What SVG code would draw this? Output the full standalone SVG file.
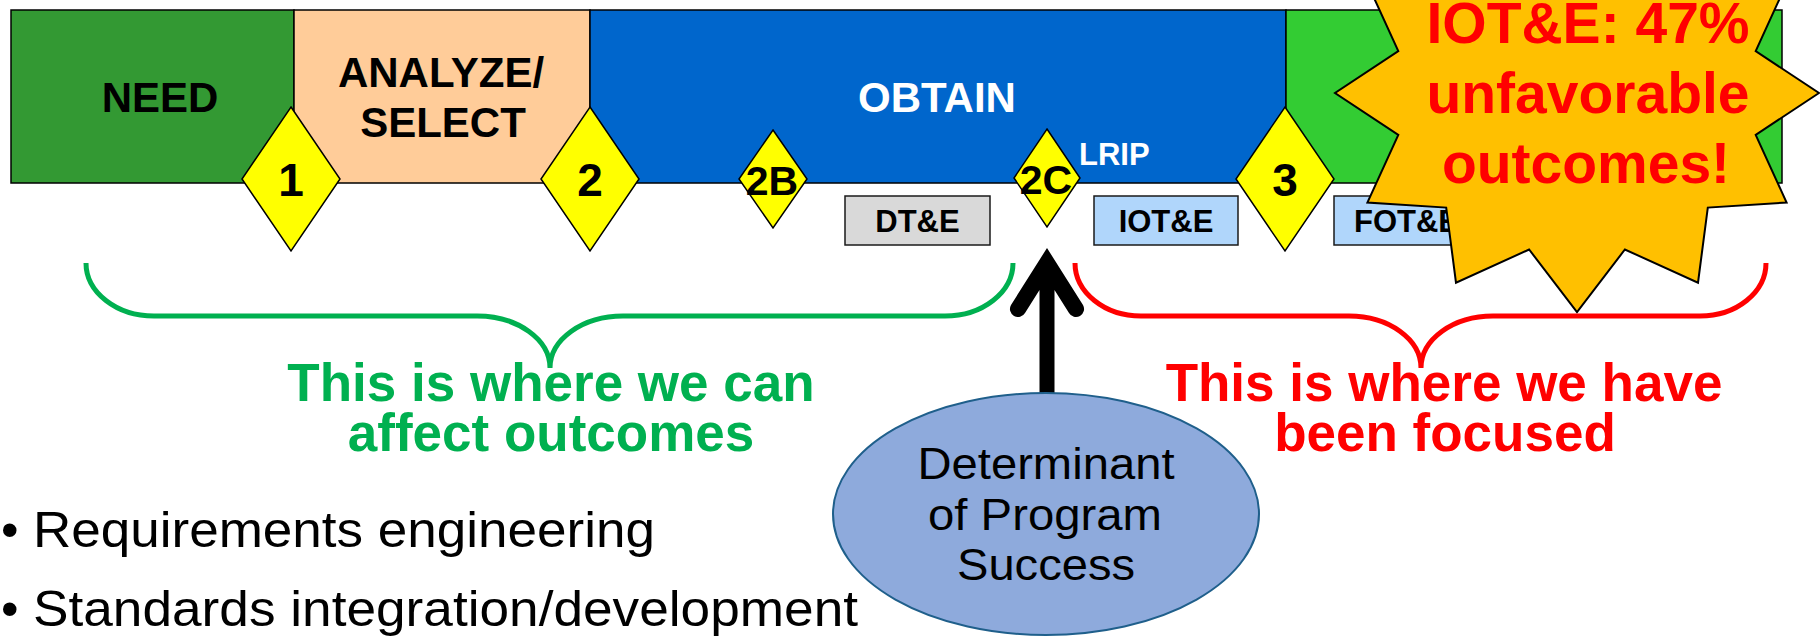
<svg xmlns="http://www.w3.org/2000/svg" width="1820" height="636" viewBox="0 0 1820 636">
<style>
.b{font-family:"Liberation Sans",Arial,sans-serif;font-weight:bold;text-anchor:middle}
.r{font-family:"Liberation Sans",Arial,sans-serif;font-weight:normal}
.seg{stroke:#000;stroke-width:1.5}
.dia{fill:#ffff00;stroke:#000;stroke-width:1.5}
.box{stroke:#1a1a1a;stroke-width:1.5}
.brace{fill:none;stroke-width:5}
</style>
<rect width="1820" height="636" fill="#ffffff"/>
<g id="phase-need"><rect class="seg" x="11" y="10" width="283" height="173" fill="#339933"/>
<text class="b" x="160" y="112" font-size="42" fill="#000">NEED</text></g>
<g id="phase-analyze"><rect class="seg" x="294" y="10" width="296" height="173" fill="#ffcc99"/>
<text class="b" x="441" y="87" font-size="42" fill="#000">ANALYZE/</text>
<text class="b" x="443" y="137" font-size="42" fill="#000">SELECT</text></g>
<g id="phase-obtain"><rect class="seg" x="590" y="10" width="696" height="173" fill="#0066cc"/>
<text class="b" x="937" y="112" font-size="42" fill="#ffffff">OBTAIN</text>
<text class="b" x="1079" y="165" font-size="31" fill="#ffffff" style="text-anchor:start">LRIP</text></g>
<g id="phase-sustain"><rect class="seg" x="1286" y="10" width="496" height="173" fill="#33cc33"/></g>
<g id="ms1"><polygon class="dia" points="291,107 340,179 291,251 242,179"/><text class="b" x="291" y="196" font-size="46">1</text></g>
<g id="ms2"><polygon class="dia" points="590,107 639,179 590,251 541,179"/><text class="b" x="590" y="196" font-size="46">2</text></g>
<g id="ms2b"><polygon class="dia" points="773,130 807,179 773,228 739,179"/><text class="b" x="772" y="195" font-size="41">2B</text></g>
<g id="ms2c"><polygon class="dia" points="1047,129 1080,178 1047,227 1014,178"/><text class="b" x="1046" y="194" font-size="41">2C</text></g>
<g id="ms3"><polygon class="dia" points="1285,107 1334,179 1285,251 1236,179"/><text class="b" x="1285" y="196" font-size="46">3</text></g>
<g id="dte"><rect class="box" x="845" y="196" width="145" height="49" fill="#d9d9d9"/><text class="b" x="917.5" y="232" font-size="31">DT&amp;E</text></g>
<g id="iote"><rect class="box" x="1094" y="196" width="144" height="49" fill="#b0d6fb"/><text class="b" x="1166" y="232" font-size="31">IOT&amp;E</text></g>
<g id="fote"><rect class="box" x="1334" y="196" width="145" height="49" fill="#b0d6fb"/><text class="b" x="1406.5" y="232" font-size="31">FOT&amp;E</text></g>
<g id="starburst">
<polygon points="1819,93 1755.7,134.9 1786.6,202.5 1707.8,207.6 1698,282.7 1624.9,249.5 1577,312 1529.1,249.5 1456,282.7 1446.2,207.6 1367.4,202.5 1398.3,134.9 1335,93 1398.3,51.1 1367.4,-16.5 1446.2,-21.6 1456,-96.7 1529.1,-63.5 1577,-126 1624.9,-63.5 1698,-96.7 1707.8,-21.6 1786.6,-16.5 1755.7,51.1" fill="#ffc000" stroke="#000" stroke-width="2" stroke-linejoin="miter"/>
<text class="b" x="1588" y="43" font-size="57" fill="#ff0000">IOT&amp;E: 47%</text>
<text class="b" x="1588" y="113" font-size="57" fill="#ff0000">unfavorable</text>
<text class="b" x="1586" y="183" font-size="57" fill="#ff0000">outcomes!</text>
</g>
<g id="connectors">
<path class="brace" stroke="#00b050" d="M86,263 A68,53 0 0 0 154,316 L477,316 A73,52 0 0 1 550,368 A73,52 0 0 1 623,316 L945,316 A68,53 0 0 0 1013,263"/>
<path class="brace" stroke="#ff0000" d="M1075,263 A66,53 0 0 0 1141,316 L1349,316 A72,52 0 0 1 1421,368 A72,52 0 0 1 1493,316 L1700,316 A66,53 0 0 0 1766,263"/>
<path d="M1047,248 L1083,305 A8,8 0 0 1 1069,313 L1054.5,290 L1054.5,394 L1039.5,394 L1039.5,290 L1025,313 A8,8 0 0 1 1011,305 Z" fill="#000"/>
</g>
<g id="label-green">
<text class="b" x="551" y="401" font-size="53" fill="#00b050">This is where we can</text>
<text class="b" x="551" y="451" font-size="53" fill="#00b050">affect outcomes</text>
</g>
<g id="label-red">
<text class="b" x="1444" y="401" font-size="53" fill="#ff0000">This is where we have</text>
<text class="b" x="1445" y="451" font-size="53" fill="#ff0000">been focused</text>
</g>
<g id="determinant">
<ellipse cx="1046" cy="514" rx="213" ry="121" fill="#8eaadc" stroke="#1f5f8b" stroke-width="2"/>
<text class="r" x="1046" y="479" font-size="44" text-anchor="middle" textLength="257" lengthAdjust="spacingAndGlyphs">Determinant</text>
<text class="r" x="1045" y="530" font-size="44" text-anchor="middle" textLength="234" lengthAdjust="spacingAndGlyphs">of Program</text>
<text class="r" x="1046" y="580" font-size="44" text-anchor="middle" textLength="178" lengthAdjust="spacingAndGlyphs">Success</text>
</g>
<g id="bullets">
<text class="r" x="1" y="547" font-size="50">•</text>
<text class="r" x="33" y="547" font-size="50" textLength="622" lengthAdjust="spacingAndGlyphs">Requirements engineering</text>
<text class="r" x="1" y="626" font-size="50">•</text>
<text class="r" x="33" y="626" font-size="50" textLength="825" lengthAdjust="spacingAndGlyphs">Standards integration/development</text>
</g>
</svg>
